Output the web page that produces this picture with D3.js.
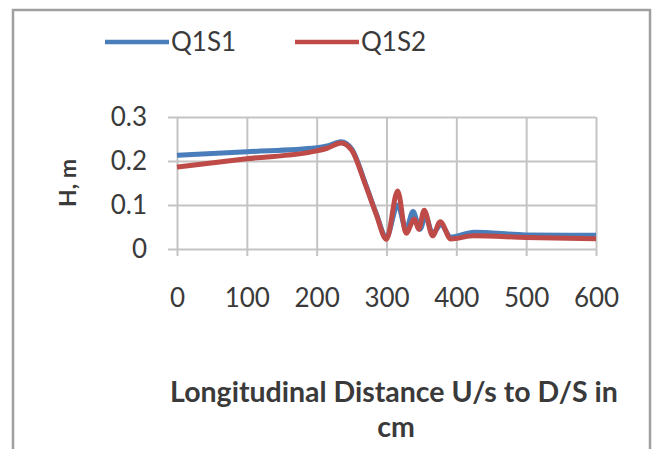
<!DOCTYPE html>
<html>
<head>
<meta charset="utf-8">
<script src="https://cdn.jsdelivr.net/npm/d3@7"></script>
<style>
  body { margin: 0; background: #fff; }
  text { font-family: Lato, "Open Sans", sans-serif; fill: #3a3a3a; }
</style>
</head>
<body>
<div id="chart"></div>
<script>
// data (distance in cm, depth in m)
var distQ1S1 = [0, 100, 200, 215, 235, 250, 270, 285, 300, 316, 328, 338, 348, 356, 366, 378, 392, 425, 500, 600];
var depthQ1S1 = [0.213, 0.221, 0.23, 0.234, 0.244, 0.228, 0.148, 0.082, 0.027, 0.10, 0.045, 0.085, 0.045, 0.075, 0.035, 0.055, 0.027, 0.038, 0.032, 0.031];
var distQ1S2 = [0, 100, 200, 215, 235, 250, 270, 285, 300, 316, 328, 340, 346, 354, 366, 377, 392, 425, 500, 600];
var depthQ1S2 = [0.186, 0.205, 0.223, 0.229, 0.241, 0.225, 0.145, 0.08, 0.022, 0.132, 0.036, 0.068, 0.045, 0.088, 0.03, 0.062, 0.023, 0.03, 0.026, 0.023];
var seriesNames = ["Q1S1", "Q1S2"];
var xTicks = [0, 100, 200, 300, 400, 500, 600];
var yTicks = [0, 0.1, 0.2, 0.3];

var svgWidth = 661;
var svgHeight = 449;

var margin = { top: 117, right: 65, bottom: 200, left: 177 };
var width = 596 - margin.left;
var height = 249 - margin.top;

var colors = ["#4a7ebb", "#be4b48"];

var svg = d3.select("#chart")
    .append("svg")
    .attr("width", svgWidth)
    .attr("height", svgHeight);

// outer chart border
svg.append("rect")
    .attr("x", 13)
    .attr("y", 10)
    .attr("width", 637)
    .attr("height", 446)
    .attr("fill", "none")
    .attr("stroke", "#a0a0a0")
    .attr("stroke-width", 2.5);

var chartGroup = svg.append("g")
    .attr("transform", `translate(${margin.left}, ${margin.top})`);

var xScale = d3.scaleLinear().domain([0, 600]).range([0, width]);
var yScale = d3.scaleLinear().domain([0, 0.3]).range([height, 0]);

// gridlines with tick stubs
var xAxis = d3.axisBottom(xScale)
    .tickValues(xTicks)
    .tickSize(height + 7)
    .tickFormat(d3.format("d"));
var yAxis = d3.axisLeft(yScale)
    .tickValues(yTicks)
    .tickSize(width + 9)
    .tickFormat(d => d === 0 ? "0" : d3.format(".1f")(d));

var gx = chartGroup.append("g")
    .call(xAxis);
gx.select(".domain").remove();
gx.selectAll("line").attr("stroke", "#c4c4c4").attr("stroke-width", 2);
gx.selectAll("text")
    .attr("y", height + 49)
    .attr("dy", "0.35em")
    .attr("font-size", 26)
    .attr("fill", "#404040");

var gy = chartGroup.append("g")
    .attr("transform", `translate(${width}, 0)`)
    .call(yAxis);
gy.select(".domain").remove();
gy.selectAll("line").attr("stroke", "#c4c4c4").attr("stroke-width", 2);
gy.selectAll("text")
    .attr("x", -width - 30)
    .attr("font-size", 26)
    .attr("fill", "#404040");

// lines
var line = d3.line()
    .x(d => xScale(d[0]))
    .y(d => yScale(d[1]))
    .curve(d3.curveMonotoneX);

var series = [
    d3.zip(distQ1S1, depthQ1S1),
    d3.zip(distQ1S2, depthQ1S2)
];

chartGroup.selectAll(".series")
    .data(series)
    .enter()
    .append("path")
    .attr("class", "series")
    .attr("d", line)
    .attr("fill", "none")
    .attr("stroke", (d, i) => colors[i])
    .attr("stroke-width", 5)
    .attr("stroke-linejoin", "round");

// legend
var legendX = [105, 295];
var legend = svg.selectAll(".legend")
    .data(seriesNames)
    .enter()
    .append("g")
    .attr("class", "legend")
    .attr("transform", (d, i) => `translate(${legendX[i]}, 42)`);
legend.append("line")
    .attr("x1", 0).attr("x2", 64)
    .attr("stroke", (d, i) => colors[i])
    .attr("stroke-width", 4.5);
legend.append("text")
    .attr("x", 66)
    .attr("dy", "0.35em")
    .attr("font-size", 26)
    .attr("fill", "#404040")
    .text(d => d);

// axis titles
svg.append("text")
    .attr("transform", "translate(76, 183) rotate(-90)")
    .attr("text-anchor", "middle")
    .attr("font-size", 23)
    .attr("font-weight", "bold")
    .attr("fill", "#262626")
    .text("H, m");

svg.append("text")
    .attr("x", 394)
    .attr("y", 402)
    .attr("text-anchor", "middle")
    .attr("font-size", 28.5)
    .attr("font-weight", "bold")
    .attr("fill", "#262626")
    .text("Longitudinal Distance U/s to D/S in");
svg.append("text")
    .attr("x", 396)
    .attr("y", 437)
    .attr("text-anchor", "middle")
    .attr("font-size", 28.5)
    .attr("font-weight", "bold")
    .attr("fill", "#262626")
    .text("cm");
</script>
</body>
</html>
